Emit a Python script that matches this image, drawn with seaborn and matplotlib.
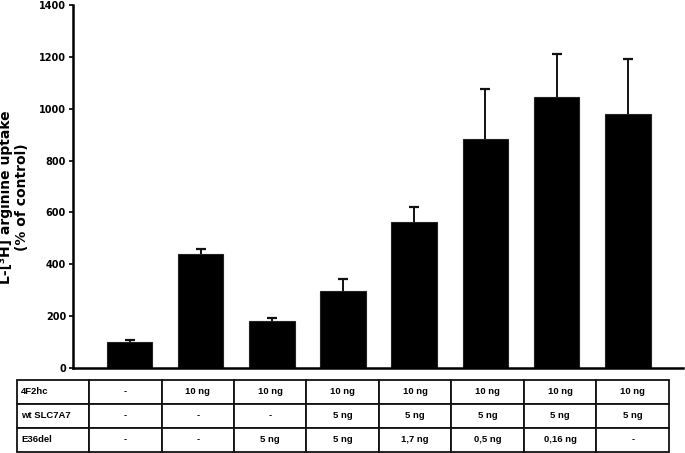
import matplotlib
matplotlib.use("Agg")
import matplotlib.pyplot as plt
import seaborn as sns
import pandas as pd
import numpy as np

# ---- data ----
groups = ["1", "2", "3", "4", "5", "6", "7", "8"]
uptake = [99, 438, 182, 298, 563, 883, 1046, 978]
sem = [8, 20, 12, 44, 59, 192, 166, 212]
yticks = [0, 200, 400, 600, 800, 1000, 1200, 1400]
row_labels = ["4F2hc", "wt SLC7A7", "E36del"]
row_4f2hc = ["-", "10 ng", "10 ng", "10 ng", "10 ng", "10 ng", "10 ng", "10 ng"]
row_wt = ["-", "-", "-", "5 ng", "5 ng", "5 ng", "5 ng", "5 ng"]
row_e36 = ["-", "-", "5 ng", "5 ng", "1,7 ng", "0,5 ng", "0,16 ng", "-"]
ylabel = "L-[\u00b3H] arginine uptake\n(% of control)"

sns.set_style("white")
plt.rcParams["font.family"] = ["DejaVu Sans"]
plt.rcParams["text.color"] = "black"
plt.rcParams["axes.labelcolor"] = "black"
plt.rcParams["ytick.color"] = "black"

W, H = 685, 453
fig = plt.figure(figsize=(W / 100, H / 100), dpi=100)

def px_axes(x0, y0, x1, y1):
    return fig.add_axes([x0 / W, 1 - y1 / H, (x1 - x0) / W, (y1 - y0) / H])

ax = px_axes(73, 5, 683, 368)
df = pd.DataFrame({"group": groups, "uptake": uptake})
sns.barplot(data=df, x="group", y="uptake", order=groups, color="black",
            width=0.64, edgecolor="#222222", linewidth=0.8, saturation=1,
            errorbar=None, ax=ax)
xs = [p.get_x() + p.get_width() / 2 for p in ax.patches]
eb = ax.errorbar(xs, uptake, yerr=[np.zeros(len(sem)), sem], fmt="none",
                 ecolor="#111111", elinewidth=1.4, capsize=3.5, capthick=1.6)
caps = eb.lines[1]
if len(caps) > 1:
    caps[0].set_visible(False)

ax.set_xlim(-0.794, 7.775)
ax.set_ylim(0, 1400)
ax.set_yticks(yticks)
ax.set_yticklabels([str(v) for v in yticks], fontsize=7, fontweight="bold",
                   color="black")
ax.set_xticks([])
ax.set_xlabel("")
ax.set_ylabel(ylabel, fontsize=10, fontweight="bold", linespacing=1.22,
              color="black")
ax.yaxis.set_label_coords(-0.0715, 0.47)
for s in ["top", "right"]:
    ax.spines[s].set_visible(False)
for s in ["left", "bottom"]:
    ax.spines[s].set_linewidth(1.8)
    ax.spines[s].set_color("black")
ax.tick_params(axis="y", direction="out", length=3, width=1.2, pad=2,
               left=True, colors="black")

# ---- table below ----
tax = px_axes(17, 380, 669, 452)
tax.axis("off")
cell_text = [[row_labels[0]] + row_4f2hc,
             [row_labels[1]] + row_wt,
             [row_labels[2]] + row_e36]
tbl = tax.table(cellText=cell_text, bbox=[0, 0, 1, 1],
                colWidths=[72] + [72.5] * 8, cellLoc="center")
tbl.auto_set_font_size(False)
for (r, c), cell in tbl.get_celld().items():
    cell.set_linewidth(1.3)
    cell.set_edgecolor("#111111")
    t = cell.get_text()
    t.set_fontsize(6.8)
    t.set_fontweight("bold")
    t.set_fontfamily("Liberation Sans")
    t.set_color("black")
    if c == 0:
        t.set_ha("left")
        cell.PAD = 0.06

fig.savefig("out.png", dpi=100)
